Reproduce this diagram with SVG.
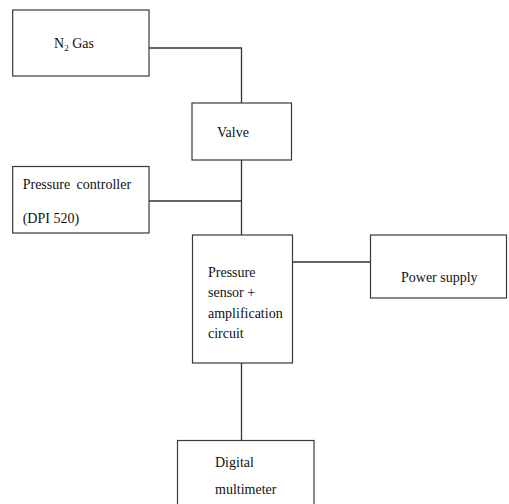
<svg xmlns="http://www.w3.org/2000/svg" width="509" height="504" viewBox="0 0 509 504">
<style>
.box{fill:#fff;stroke:#3a3a3a;stroke-width:1.2}
.c{fill:none;stroke:#333;stroke-width:1.3}
text{font-family:"Liberation Serif","Times New Roman",serif;font-size:14px;fill:#111}
</style>
<rect width="509" height="504" fill="#fff"/>
<g id="connectors">
<polyline class="c" points="149,48 241.5,48 241.5,103"/>
<line class="c" x1="241.5" y1="160" x2="241.5" y2="235"/>
<line class="c" x1="149" y1="201" x2="241.5" y2="201"/>
<line class="c" x1="292" y1="262" x2="370.5" y2="262"/>
<line class="c" x1="241.5" y1="363" x2="241.5" y2="440.5"/>
</g>
<g id="n2gas">
<rect class="box" x="12.7" y="10" width="136.3" height="66"/>
<text x="54" y="48">N<tspan font-size="9" dy="3">2</tspan><tspan dy="-3"> Gas</tspan></text>
</g>
<g id="valve">
<rect class="box" x="192" y="103" width="99.5" height="57"/>
<text x="217" y="137">Valve</text>
</g>
<g id="controller">
<rect class="box" x="12.7" y="166.5" width="136.3" height="66.5"/>
<text x="22.7" y="189" word-spacing="3">Pressure controller</text>
<text x="22.7" y="223">(DPI 520)</text>
</g>
<g id="sensor">
<rect class="box" x="192.5" y="235" width="100" height="128"/>
<text x="208" y="277">Pressure</text>
<text x="208" y="297">sensor +</text>
<text x="208" y="318">amplification</text>
<text x="208" y="338">circuit</text>
</g>
<g id="power">
<rect class="box" x="370.5" y="235" width="136" height="63"/>
<text x="401" y="282">Power supply</text>
</g>
<g id="multimeter">
<rect class="box" x="177.5" y="440.5" width="136.5" height="70"/>
<text x="215" y="467">Digital</text>
<text x="215" y="494">multimeter</text>
</g>
</svg>
